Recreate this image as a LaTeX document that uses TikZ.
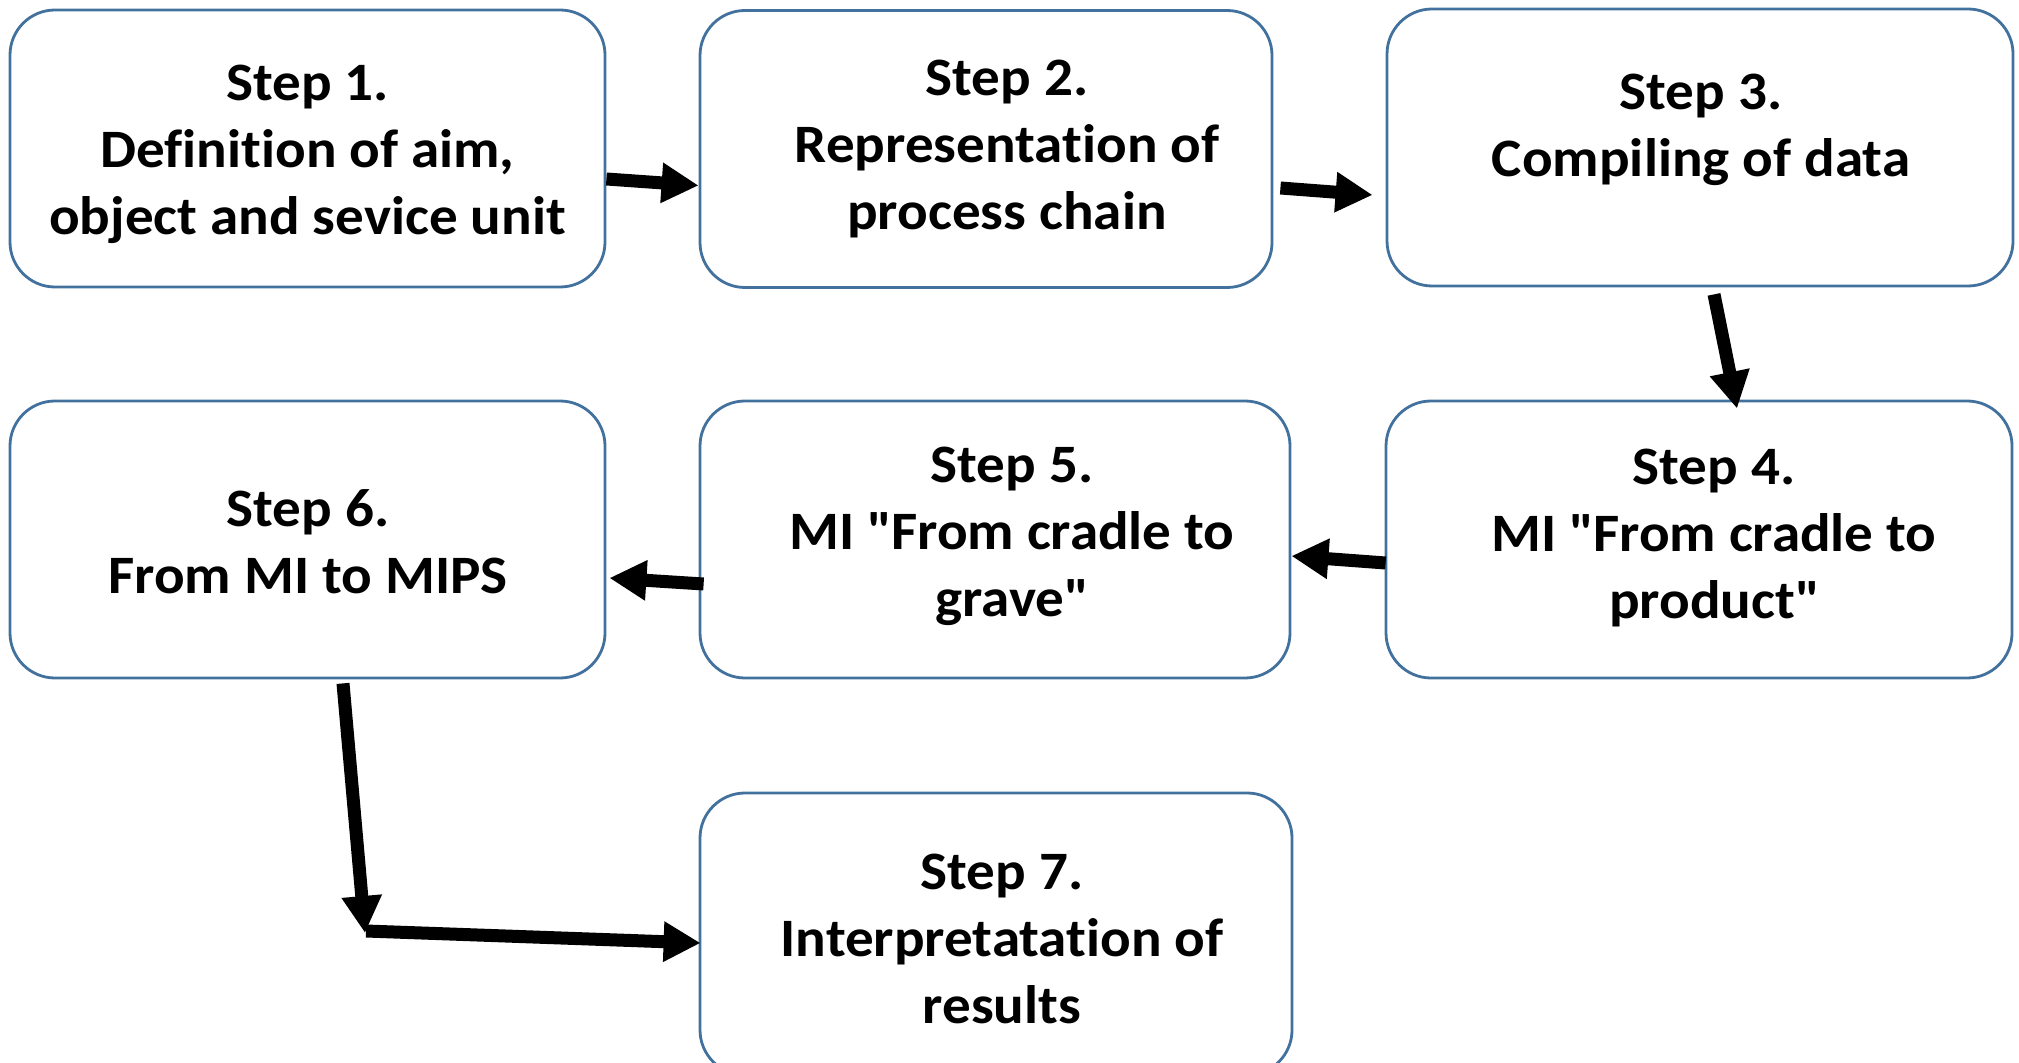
\documentclass[tikz,border=0pt]{standalone}
\usepackage{fontspec}
\setmainfont{Carlito}[FakeStretch=1.055, Ligatures=NoCommon]
\usetikzlibrary{arrows.meta}

\definecolor{boxblue}{RGB}{65,113,156}

\tikzset{
  stepbox/.style={draw=boxblue, line width=.028cm, rounded corners=.45cm,
    minimum width=#1, minimum height=2.77cm, inner sep=0pt},
  steptext/.style={align=center, inner sep=0pt,
    font=\bfseries\fontsize{15.4}{19.1}\selectfont},
  fatarrow/.style={line width=.13cm,
    -{Triangle[length=.37cm, width=.38cm]}}
}

\begin{document}
\begin{tikzpicture}
    \useasboundingbox (0, 0) rectangle (20.19, -10.63);

      %%row 1
      \node[stepbox=5.95cm] (s1) at (3.075, -1.485) {};
      \node[stepbox=5.72cm] (s2) at (9.86, -1.49) {};
      \node[stepbox=6.26cm] (s3) at (17.0, -1.475) {};
      %%row 2
      \node[stepbox=6.26cm] (s4) at (16.99, -5.395) {};
      \node[stepbox=5.9cm] (s5) at (9.95, -5.395) {};
      \node[stepbox=5.95cm] (s6) at (3.075, -5.395) {};
      %%row 3
      \node[stepbox=5.92cm, minimum height=2.82cm] (s7) at (9.96, -9.34) {};

      %%texts
      \node[steptext] (t1) at ([shift={(0, -.06)}]s1.center)
        {Step 1.\\Definition of aim,\\object and sevice unit};
      \node[steptext] (t2) at ([shift={(.21, .0)}]s2.center)
        {Step 2.\\Representation of\\process chain};
      \node[steptext] (t3) at ([shift={(.01, .18)}]s3.center)
        {Step 3.\\Compiling of data};
      \node[steptext] (t4) at ([shift={(.15, .015)}]s4.center)
        {Step 4.\\MI \textquotedbl From cradle to\\product\textquotedbl};
      \node[steptext] (t5) at ([shift={(.17, .035)}]s5.center)
        {Step 5.\\MI \textquotedbl From cradle to\\grave\textquotedbl};
      \node[steptext] (t6) at ([shift={(.005, -.02)}]s6.center)
        {Step 6.\\From MI to MIPS};
      \node[steptext] (t7) at ([shift={(.06, -.05)}]s7.center)
        {Step 7.\\Interpretatation of\\results};

      %%arrows
    \draw[fatarrow] ([yshift=-.305cm]s1.east) to ([yshift=-.365cm]s2.west);
    \draw[fatarrow] ([shift={(.07, -.39)}]s2.east) to ([shift={(-.13, -.475)}]s3.west);
    \draw[fatarrow] ([shift={(.14, -.07)}]s3.south) to ([shift={(.38, -.09)}]s4.north);
    \draw[fatarrow] ([shift={(.01, -.235)}]s4.west) to ([shift={(0, -.165)}]s5.east);
    \draw[fatarrow] ([shift={(.05, -.445)}]s5.west) to ([shift={(.03, -.385)}]s6.east);

    \coordinate (bend) at (3.65, -9.33);
    \draw[fatarrow] ([shift={(.355, -.04)}]s6.south) to (bend);
    \draw[fatarrow] ([shift={(.01, .02)}]bend) to ([shift={(.02, -.09)}]s7.west);

\end{tikzpicture}
\end{document}
